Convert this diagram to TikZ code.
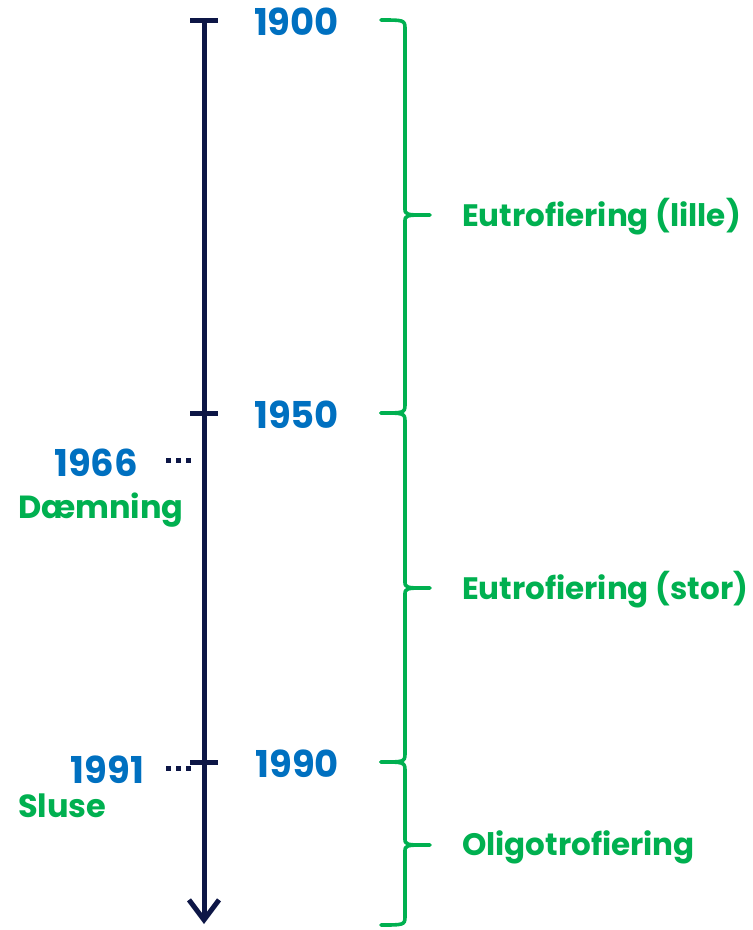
\documentclass[tikz,border=0pt]{standalone}
\usepackage{fontspec}
\setmainfont{Poppins}
\usetikzlibrary{arrows.meta}
\definecolor{navy}{HTML}{0D1646}
\definecolor{yearblue}{HTML}{0070C0}
\definecolor{lgreen}{HTML}{00B050}
\begin{document}
\begin{tikzpicture}[x=1pt,y=-1pt,
  every node/.style={inner sep=0pt,outer sep=0pt},
  year/.style={font=\fontsize{37}{42}\selectfont\bfseries, text=yearblue},
  evt/.style={font=\fontsize{32}{38}\selectfont\bfseries, text=lgreen},
  phase/.style={font=\fontsize{31}{38}\selectfont\bfseries, text=lgreen, anchor=west},
  axisline/.style={draw=navy, line width=5pt},
  tick/.style={draw=navy, line width=5pt},
  dots/.style={draw=navy, line width=5pt, dash pattern=on 5pt off 5pt},
  brace/.style={draw=lgreen, line width=3.6pt, line join=round, line cap=round}]
\useasboundingbox (0,0) rectangle (753,930);
% axis
\coordinate (top) at (204,20);
\coordinate (bot) at (204,924);
\draw[axisline, -{Straight Barb[length=20pt,width=30pt,line width=5pt]}] (top) -- (bot);
% ticks
\foreach \n/\y in {t1900/20, t1950/413, t1990/762}{
  \coordinate (\n) at (204,\y);
  \draw[tick] ([xshift=-14pt]\n) -- ([xshift=14pt]\n);
}
% year labels
\node[year, anchor=east] (y1900) at (339,22) {1900};
\node[year, anchor=east] (y1950) at (339,415) {1950};
\node[year, anchor=east] (y1990) at (339,764) {1990};
\node[year, anchor=east] (y1966) at (138,463) {1966};
\node[year, anchor=east] (y1991) at (144,770) {1991};
\node[evt, anchor=west] (daem) at (18,510) {Dæmning};
\node[evt, anchor=west] (sluse) at (18,806) {Sluse};
% dotted leaders
\coordinate (d66a) at (166,460);
\coordinate (d66b) at (195,460);
\coordinate (d91a) at (166,768);
\coordinate (d91b) at (195,768);
\draw[dots] (d66a) -- (d66b);
\draw[dots] (d91a) -- (d91b);
% braces
\foreach \a/\m/\b in {20/215/413, 413/588/762, 762/845/925}{
  \draw[brace] (381,\a) .. controls (403,\a) and (405,\a) .. (405,\a+8)
    -- (405,\m-7) .. controls (405,\m) .. (430,\m)
    (430,\m) .. controls (405,\m) .. (405,\m+7)
    -- (405,\b-8) .. controls (405,\b) and (403,\b) .. (381,\b);
}
\node[phase] (p1) at (462,217) {Eutrofiering (lille)};
\node[phase] (p2) at (462,590) {Eutrofiering (stor)};
\node[phase] (p3) at (462,847) {Oligotrofiering};
\end{tikzpicture}
\end{document}
